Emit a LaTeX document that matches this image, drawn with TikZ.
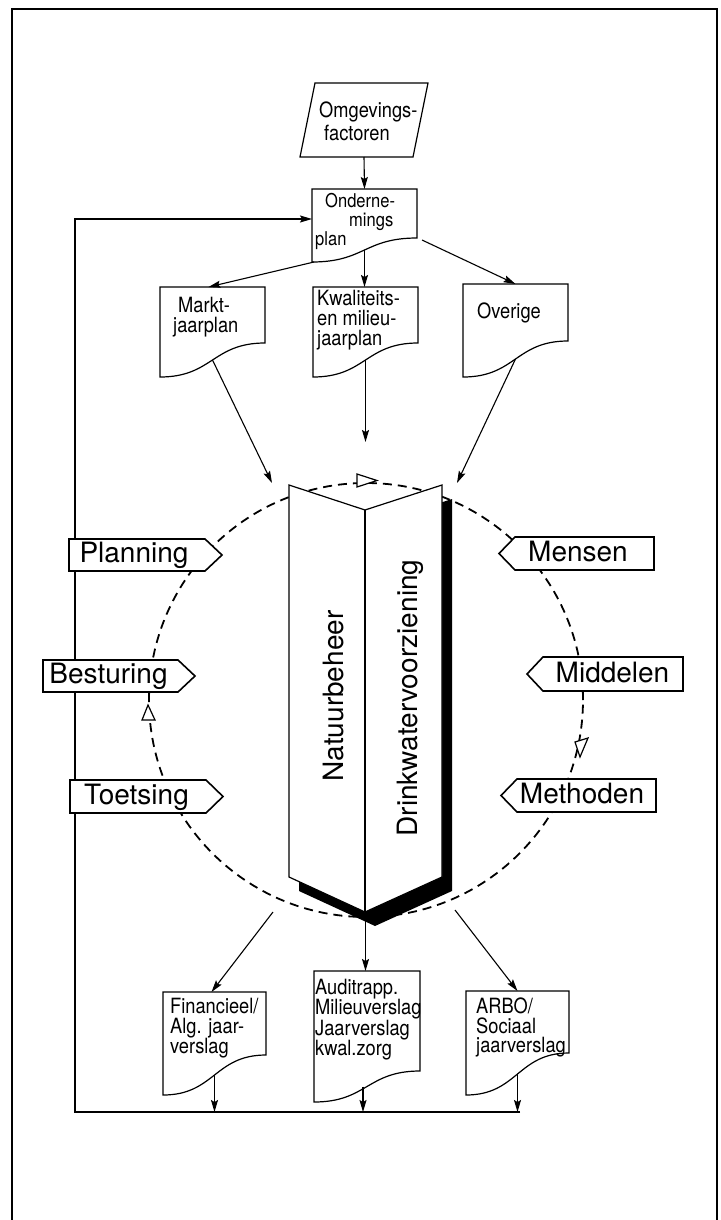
\documentclass[tikz,border=0pt]{standalone}
\usepackage{fontspec}
\setmainfont{TeX Gyre Heros}
\newfontfamily\narrowfont[FakeStretch=0.87]{TeX Gyre Heros}
\usetikzlibrary{arrows.meta}

\newcommand\docfont{\narrowfont\fontsize{21}{20}\selectfont}
\newcommand\bigfont{\fontsize{28}{30}\selectfont}

% document symbol: name, left, top, right, bottom (left end), rise of the right end
\newcommand\docshape[6]{%
  \path[docline] (#2,#3) -- (#4,#3) -- (#4,{#5-#6})
     .. controls ({(#2+#4)/2},{#5-#6}) and ({(#2+#4)/2},#5) .. (#2,#5) -- cycle;
  \node[boxnode, minimum width={#4-#2}, minimum height={#5-#3}] (#1) at ({(#2+#4)/2},{(#3+#5)/2}) {};
  \coordinate (#1-wave) at ({(#2+#4)/2},{#5-#6/2});
}
% tab pointing right: name, text, left, right, top, bottom, text centre x
\newcommand\tabright[7]{%
  \path[tabline] (#3,#5) -- (#4,#5) -- ({#4+17},{(#5+#6)/2}) -- (#4,#6) -- (#3,#6) -- cycle;
  \node[tabtext] (#1) at (#7,{#6-8.5}) {#2};
}
% tab pointing left: name, text, left, right, top, bottom, text centre x
\newcommand\tableft[7]{%
  \path[tabline] ({#3-16},{(#5+#6)/2}) -- (#3,#5) -- (#4,#5) -- (#4,#6) -- (#3,#6) -- cycle;
  \node[tabtext] (#1) at (#7,{#6-8.5}) {#2};
}

\begin{document}
\begin{tikzpicture}[x=1pt,y=-1pt,
  frameline/.style={line width=1.5pt},
  plain/.style={line width=1.2pt},
  docline/.style={draw, fill=white, line width=1.2pt, line join=miter},
  boxnode/.style={inner sep=0pt, outer sep=0pt, draw=none},
  arr/.style={line width=1.1pt, -{Stealth[length=12pt,width=7pt,inset=2pt]}},
  tabline/.style={draw, fill=white, line width=1.6pt, line join=miter},
  tabtext/.style={font=\bigfont, anchor=base, inner sep=0pt},
  foldtext/.style={font=\bigfont, anchor=base, inner sep=0pt, rotate=90},
  doctext/.style={font=\docfont, align=left, anchor=north west, inner sep=0pt},
  cycleline/.style={draw, circle, dash pattern=on 9pt off 6pt, line width=1.8pt, inner sep=0pt},
  opentri/.style={draw, fill=white, line width=1.2pt, line join=miter}]

\useasboundingbox (0,0) rectangle (720,1220);
\fill[white] (0,0) rectangle (720,1220);

% outer frame
\draw[frameline] (12,1220) -- (12,9) -- (717,9) -- (717,1220);

% feedback loop back to the company plan
\coordinate (fb-r) at (520,1112);
\coordinate (fb-l) at (75,1112);

% management cycle
\node[cycleline, minimum size=434pt] (cyc) at (366,700) {};

% environment factors
\path[docline] (315,83) -- (428,83) -- (413,157) -- (300,157) -- cycle;
\node[boxnode, minimum width=128, minimum height=74] (omg) at (364,120) {};
\node[doctext, font={\narrowfont\fontsize{21}{23}\selectfont}] (omg-t) at (319,102) {Omgevings-\\\hspace*{5pt}factoren};

% plans
\docshape{onder}{312}{189}{417}{262}{24}
\docshape{markt}{160}{287}{265}{377}{34}
\docshape{kwal}{313}{287}{418}{377}{34}
\docshape{over}{463}{284}{568}{377}{36}
\node[doctext, font={\narrowfont\fontsize{19}{19}\selectfont}] (onder-t) at (315,193) {\hspace*{10pt}Onderne-\\\hspace*{34pt}mings\\plan};
\node[doctext, font={\narrowfont\fontsize{21}{19.5}\selectfont}] (markt-t) at (173,297) {\hspace*{5pt}Markt-\\jaarplan};
\node[doctext] (kwal-t) at (317,290) {Kwaliteits-\\en milieu-\\jaarplan};
\node[doctext] (over-t) at (477,303) {Overige};

% reports
\docshape{fin}{163}{992}{266}{1095}{40}
\docshape{aud}{314}{971}{420}{1102}{31}
\docshape{arbo}{466}{991}{569}{1095}{42}
\node[doctext] (fin-t) at (170,998) {Financieel/\\Alg. jaar-\\verslag};
\node[doctext, font={\narrowfont\fontsize{21}{20.3}\selectfont}] (aud-t) at (315,979) {Auditrapp.\\Milieuverslag\\Jaarverslag\\kwal.zorg};
\node[doctext, font={\narrowfont\fontsize{21}{19.5}\selectfont}] (arbo-t) at (476,998) {ARBO/\\Sociaal\\jaarverslag};

% feedback line
\draw[arr] (fb-r) -- (fb-l) |- ([yshift=6.5pt]onder.west);

% tabs round the cycle
\tabright{planning}{Planning}{69}{205}{539}{571}{134}
\tabright{besturing}{Besturing}{43}{178}{660}{692}{108.5}
\tabright{toetsing}{Toetsing}{70}{206}{780}{813}{136.5}
\tableft{mensen}{Mensen}{515}{654}{537}{570}{578}
\tableft{middelen}{Middelen}{543}{683}{657}{691}{612.5}
\tableft{methoden}{Methoden}{517}{656}{779}{812}{582}

% folded banner with shadow
\fill[black] (299,499) -- (375,524) -- (452,499) -- (452,891) -- (375,926) -- (299,891) -- cycle;
\path[docline] (289,485) -- (365,510) -- (442,485) -- (442,877) -- (365,912) -- (289,877) -- cycle;
\draw[plain] (365,510) -- (365,912);
\node[boxnode, minimum width=153, minimum height=427] (fold) at (365.5,698.5) {};
\node[foldtext] (natuur) at (343,696) {Natuurbeheer};
\node[foldtext] (drink) at (417,698) {Drinkwatervoorziening};

% direction marks on the cycle
\path[opentri] (357,474) -- (377,480.5) -- (357,487) -- cycle;
\path[opentri] (575,742) -- (588,738) -- (580,757) -- cycle;
\path[opentri] (142,720) -- (155,720) -- (148,705) -- cycle;

% connectors
\draw[arr] (omg.south) -- (onder.north);
\draw[arr] ([xshift=2pt]onder.south west) -- ([xshift=-4pt]markt.north);
\draw[arr] (onder-wave) -- (onder-wave |- kwal.north);
\draw[arr] ([xshift=5pt,yshift=22pt]onder.south east) -- (over.north);

\coordinate (in-markt) at (272,483);
\coordinate (in-kwal) at (364,442);
\coordinate (in-over) at (457,483);
\draw[arr] (markt-wave) -- (in-markt);
\draw[arr] (kwal-wave) -- (kwal-wave |- in-kwal);
\draw[arr] (over-wave) -- (in-over);

\coordinate (out-fin) at (273,912);
\coordinate (out-arbo) at (455,910);
\draw[arr] (out-fin) -- ([xshift=-3pt]fin.north);
\draw[arr] (fold.south) -- (fold.south |- aud.north);
\draw[arr] (out-arbo) -- (arbo.north);

\draw[arr] (fin-wave) -- (fin-wave |- fb-l);
\draw[arr] ([xshift=-4pt]aud-wave) -- ([xshift=-4pt]aud-wave |- fb-l);
\draw[arr] (arbo-wave) -- (arbo-wave |- fb-l);

\end{tikzpicture}
\end{document}
